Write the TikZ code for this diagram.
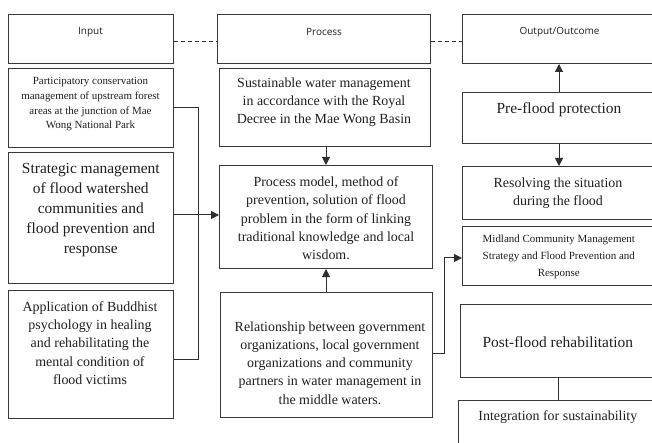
\documentclass[tikz,border=0pt]{standalone}
\usepackage{fontspec}
\setmainfont{Liberation Serif}
\newfontfamily\hdrfont{Open Sans}
\usetikzlibrary{arrows.meta,calc}
\tikzset{
  box/.style={draw=black!78, line width=1bp, rectangle, inner sep=0pt, anchor=north west},
  txt/.style={align=center, inner sep=0pt, text=black!88},
  hdr/.style={txt, font=\hdrfont\fontsize{10}{12}\selectfont},
  sm/.style={txt, font=\fontsize{11}{14.7}\selectfont},
  md/.style={txt, font=\fontsize{14}{18.3}\selectfont},
  lg/.style={txt, font=\fontsize{15.5}{20}\selectfont},
  conn/.style={draw=black!82, line width=1bp},
  arr/.style={conn, -{Triangle[length=8bp,width=8bp]}},
  dsh/.style={conn, dash pattern=on 4bp off 3bp}
}
\begin{document}
\begin{tikzpicture}[x=1bp,y=-1bp]
\useasboundingbox (0,0) rectangle (652,443);
\fill[white] (0,0) rectangle (652,443);
\clip (0,0) rectangle (652,443);
% boxes
\node[box, minimum width=165bp, minimum height=49bp] (inH) at (8,14) {};
\node[box, minimum width=165bp, minimum height=79bp] (part) at (8,68) {};
\node[box, minimum width=165bp, minimum height=131bp] (strat) at (8,152) {};
\node[box, minimum width=165bp, minimum height=128bp] (app) at (8,290) {};
\node[box, minimum width=213bp, minimum height=49bp] (prH) at (217,14) {};
\node[box, minimum width=211bp, minimum height=78bp] (sust) at (219,68) {};
\node[box, minimum width=213bp, minimum height=103bp] (pm) at (219,165) {};
\node[box, minimum width=212bp, minimum height=125bp] (rel) at (220,292) {};
\node[box, minimum width=210bp, minimum height=49bp] (outH) at (462,14) {};
\node[box, minimum width=210bp, minimum height=51bp] (pre) at (462,92) {};
\node[box, minimum width=210bp, minimum height=53bp] (res) at (462,166) {};
\node[box, minimum width=210bp, minimum height=59bp] (mid) at (462,226) {};
\node[box, minimum width=212bp, minimum height=73bp] (post) at (460,304) {};
\node[box, minimum width=214bp, minimum height=60bp] (integ) at (458,400) {};
% texts
\node[hdr] (tinH) at (90.5,32) {Input};
\node[hdr] (tprH) at (324,32) {Process};
\node[hdr] (toutH) at (559.5,32) {Output/Outcome};
\node[sm] (tpart) at (90.5,104.5) {Participatory conservation\\management of upstream forest\\areas at the junction of Mae\\Wong National Park};
\node[lg] (tstrat) at (90.8,210) {Strategic management\\of flood watershed\\communities and\\flood prevention and\\response};
\node[md] (tapp) at (90,343) {Application of Buddhist\\psychology in healing\\and rehabilitating the\\mental condition of\\flood victims};
\node[md] (tsust) at (324,102) {Sustainable water management\\in accordance with the Royal\\Decree in the Mae Wong Basin};
\node[md] (tpm) at (326,218.3) {Process model, method of\\prevention, solution of flood\\problem in the form of linking\\traditional knowledge and local\\wisdom.};
\node[md] (trel) at (330,363) {Relationship between government\\organizations, local government\\organizations and community\\partners in water management in\\the middle waters.};
\node[lg] (tpre) at (559,110) {Pre-flood protection};
\node[md] (tres) at (558,193) {Resolving the situation\\during the flood};
\node[sm, font=\fontsize{11}{17}\selectfont] (tmid) at (558.8,257) {Midland Community Management\\Strategy and Flood Prevention and\\Response};
\node[lg] (tpost) at (557.8,341.7) {Post-flood rehabilitation};
\node[md] (tinteg) at (557.8,416.7) {Integration for sustainability};
% connectors
\coordinate (bx) at (198,0);
\coordinate (rx) at (444,0);
\coordinate (ox) at (559,0);
\coordinate (px) at (558,0);
\draw[conn] (part.east |- 0,108) -- (bx |- 0,108) -- (bx |- 0,359) -- (app.east |- 0,359);
\draw[arr] (strat.east |- 0,215) -- (pm.west |- 0,215);
\draw[arr] (sust.south -| pm.north) -- (pm.north);
\draw[arr] (rel.north -| pm.south) -- (pm.south);
\draw[arr] (rel.east |- 0,353) -- (rx |- 0,353) -- (rx |- 0,258) -- (mid.west |- 0,258);
\draw[arr] (pre.north -| ox) -- (outH.south -| ox);
\draw[arr] (pre.south -| ox) -- (res.north -| ox);
\draw[conn] (post.south -| px) -- (integ.north -| px);
\draw[dsh] (inH.east |- 0,42) -- (prH.west |- 0,42);
\draw[dsh] (prH.east |- 0,42) -- (outH.west |- 0,42);
\end{tikzpicture}
\end{document}
